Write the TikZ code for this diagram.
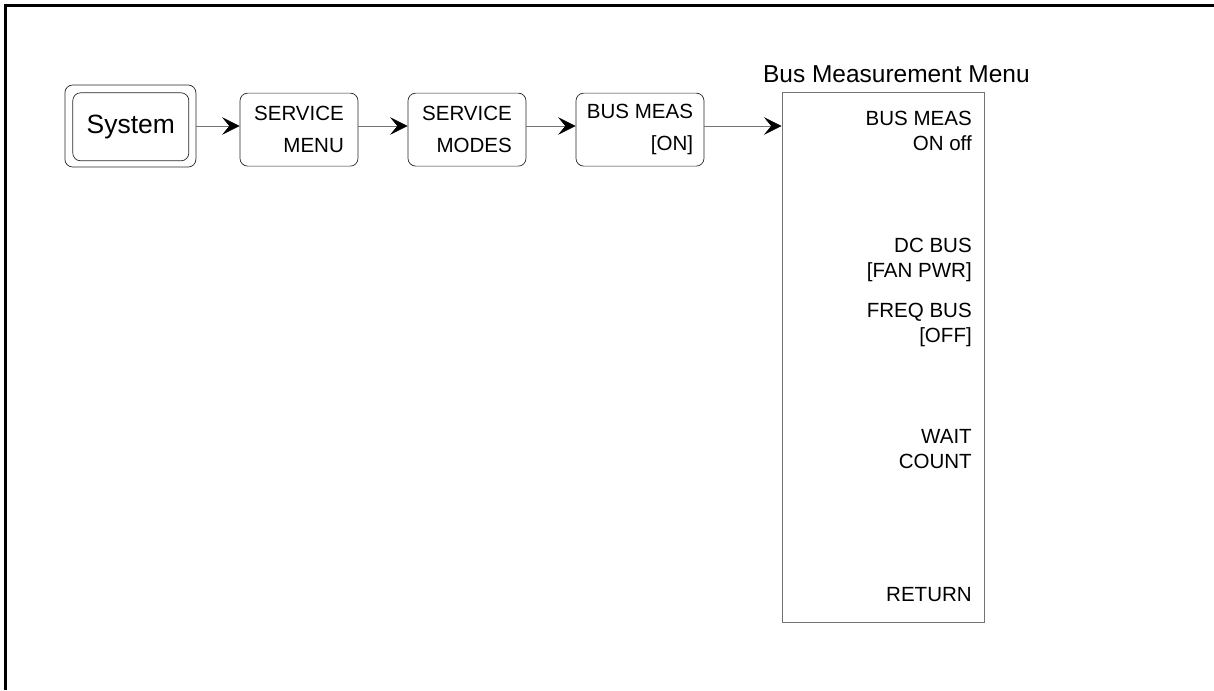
\documentclass[tikz,border=0pt]{standalone}
\usepackage{fontspec}
\setmainfont{Liberation Sans}
\usepackage{tikz}
\usetikzlibrary{arrows.meta,positioning}
\definecolor{keydark}{RGB}{40,40,40}
\definecolor{keygrey}{RGB}{115,115,115}
\tikzset{
  >={Stealth[length=4.4mm,width=4.4mm,inset=1.8mm,color=black]},
  flow/.style={->, line width=0.55pt, draw=keygrey},
  softkey/.style={
    draw=keydark,
    rounded corners=5.5pt,
    fill=white,
    align=right,
    line width=0.5pt,
    inner sep=0pt,
    minimum width=2.95cm,
    minimum height=1.825cm,
    font=\fontsize{14.6}{22.5}\selectfont
  },
  hardkey/.style={
    draw=keydark,
    rounded corners=5.5pt,
    line width=0.5pt,
    inner sep=0pt
  },
  menubox/.style={
    draw=keygrey,
    line width=0.65pt,
    minimum width=5.05cm,
    minimum height=13.25cm
  },
  menulabel/.style={anchor=east, align=right, inner sep=0pt,
    font=\fontsize{14.6}{18}\selectfont},
  frameline/.style={line width=1.8pt, draw=black}
}
\begin{document}
\begin{tikzpicture}
      \useasboundingbox (0,0) rectangle (30.35,-17.25);
      \draw[frameline] (0.14,-17.25) -- (0.14,-0.14) -- (30.35,-0.14);

      % front panel key
      \node[hardkey,minimum width=3.275cm,minimum height=2.05cm]
        (sysouter) at (3.26,-3.15) {};
      \node[hardkey,minimum width=2.9cm,minimum height=1.7cm,
        font=\fontsize{18.8}{22}\selectfont]
        (system) at (3.27,-3.17) {System};

      % softkeys
      \node[softkey] (svcmenu) at (7.475,-3.24) {SERVICE\\MENU};
      \node[softkey] (svcmodes) at (11.675,-3.24) {SERVICE\\MODES};
      \node[softkey,minimum width=3.2cm] (busmeas) at (16.0,-3.24) {BUS MEAS\\{[ON]}};

      % menu
      \node[menubox] (menu) at (22.075,-8.925) {};
      \node[font=\fontsize{17.4}{20}\selectfont,inner sep=0pt]
        (menutitle) at (22.41,-1.85) {Bus Measurement Menu};
      \node[menulabel] (mbusmeas) at (24.3,-3.28) {BUS MEAS\\ON off};
      \node[menulabel] (mdcbus) at (24.3,-6.5) {DC BUS\\{[FAN PWR]}};
      \node[menulabel] (mfreqbus) at (24.3,-8.125) {FREQ BUS\\{[OFF]}};
      \node[menulabel] (mwait) at (24.3,-11.225) {WAIT\\COUNT};
      \node[menulabel] (mreturn) at (24.3,-14.875) {RETURN};

      \draw[flow] (sysouter.east) -- (sysouter.east -| svcmenu.west);
      \draw[flow] (svcmenu.east |- sysouter.east) -- (sysouter.east -| svcmodes.west);
      \draw[flow] (svcmodes.east |- sysouter.east) -- (sysouter.east -| busmeas.west);
      \draw[flow] (busmeas.east |- sysouter.east) -- (sysouter.east -| menu.west);
    \end{tikzpicture}
\end{document}
